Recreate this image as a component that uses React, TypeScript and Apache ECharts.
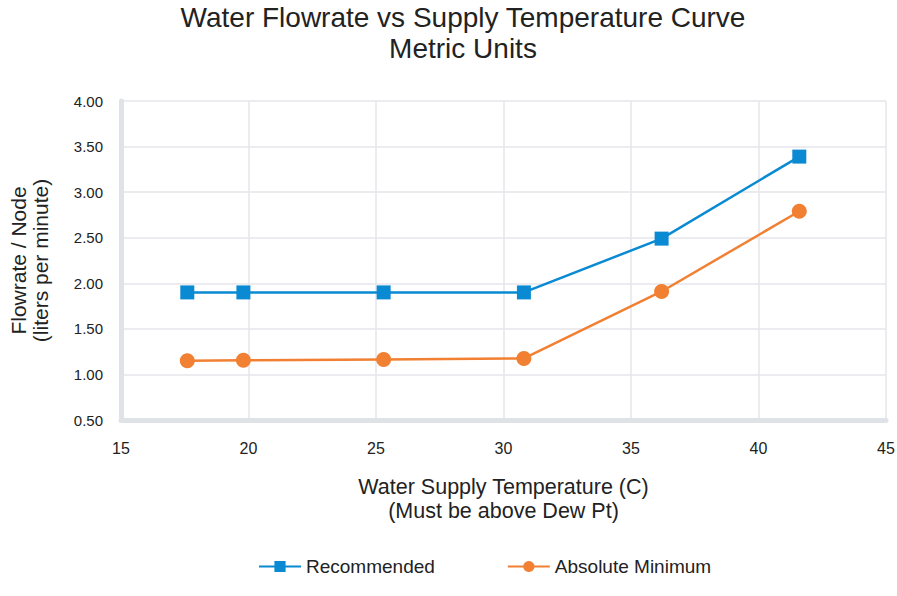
import React, { useEffect, useRef } from "react";
import * as echarts from "echarts";

const temps = [17.6, 19.8, 25.3, 30.8, 36.2, 41.6];
const recommended = [1.9, 1.9, 1.9, 1.9, 2.49, 3.39];
const absoluteMin = [1.15, 1.155, 1.165, 1.175, 1.91, 2.79];
const seriesNames = ["Recommended", "Absolute Minimum"];

const FONT = "Liberation Sans, Arial, Helvetica, sans-serif";

export default function App() {
  const ref = useRef<HTMLDivElement>(null);
  useEffect(() => {
    if (!ref.current) return;
    const chart = echarts.init(ref.current, null, { renderer: "svg" });
    chart.setOption({
      animation: false,
      textStyle: { fontFamily: FONT },
      title: {
        text: "Water Flowrate vs Supply Temperature Curve\nMetric Units",
        left: 458,
        textAlign: "center",
        top: -3,
        textStyle: { fontSize: 28, fontWeight: "normal", color: "#222", lineHeight: 31, fontFamily: FONT },
      },
      legend: {
        left: 253,
        top: 552,
        itemWidth: 42,
        itemHeight: 14,
        itemGap: 72,
        textStyle: { fontSize: 19, color: "#222", fontFamily: FONT },
        data: seriesNames,
      },
      grid: { left: 121, right: 11, top: 101, bottom: 176, containLabel: false, outerBoundsMode: "none" },
      xAxis: {
        type: "value",
        min: 15,
        max: 45,
        interval: 5,
        name: "Water Supply Temperature (C)\n(Must be above Dew Pt)",
        nameLocation: "middle",
        nameGap: 55,
        nameTextStyle: { fontSize: 21.5, color: "#222", lineHeight: 24, fontFamily: FONT },
        axisLine: { show: true, lineStyle: { color: "#dfe2e6", width: 5 } },
        axisTick: { show: false },
        axisLabel: { fontSize: 16, color: "#222", margin: 20, fontFamily: FONT },
        splitLine: { show: true, lineStyle: { color: "#e6e6eb", width: 1.5 } },
      },
      yAxis: {
        type: "value",
        min: 0.5,
        max: 4,
        interval: 0.5,
        name: "Flowrate / Node\n(liters per minute)",
        nameLocation: "middle",
        nameGap: 70,
        nameTextStyle: { fontSize: 21, color: "#222", lineHeight: 22, fontFamily: FONT },
        axisLine: { show: true, lineStyle: { color: "#dfe2e6", width: 5 } },
        axisTick: { show: false },
        axisLabel: {
          fontSize: 15,
          color: "#222",
          margin: 18,
          fontFamily: FONT,
          formatter: (v: number) => v.toFixed(2),
        },
        splitLine: { show: true, lineStyle: { color: "#e6e6eb", width: 1.5 } },
      },
      series: [
        {
          name: seriesNames[0],
          type: "line",
          data: temps.map((t, i) => [t, recommended[i]]),
          symbol: "rect",
          symbolSize: 14,
          lineStyle: { color: "#0a8ad2", width: 2.5 },
          itemStyle: { color: "#0a8ad2" },
        },
        {
          name: seriesNames[1],
          type: "line",
          data: temps.map((t, i) => [t, absoluteMin[i]]),
          symbol: "circle",
          symbolSize: 15,
          lineStyle: { color: "#f28033", width: 2.5 },
          itemStyle: { color: "#f28033" },
        },
      ],
    });
    return () => chart.dispose();
  }, []);
  return <div ref={ref} style={{ width: 897, height: 596, position: "absolute", left: 0, top: 0, background: "#fff" }} />;
}
